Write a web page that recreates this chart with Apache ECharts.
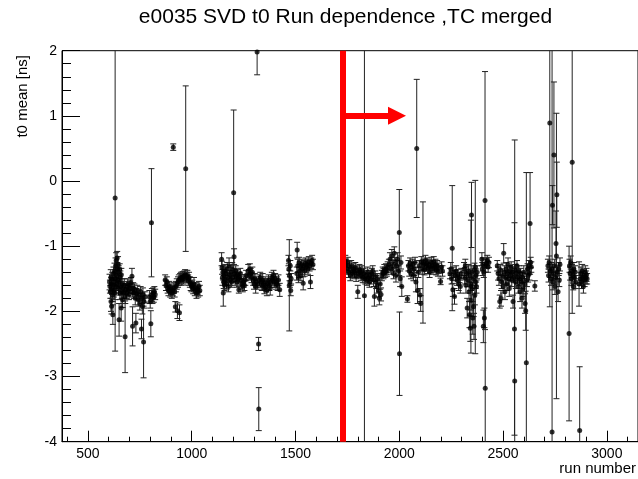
<!DOCTYPE html>
<html>
<head>
<meta charset="utf-8">
<script src="https://cdn.jsdelivr.net/npm/echarts@6/dist/echarts.min.js"></script>
<style>
html,body{margin:0;padding:0;background:#fff;}
#chart{width:638px;height:479px;}
</style>
</head>
<body>
<div id="chart"></div>
<script>
// ---- Data: [run number, t0 mean (ns), error (ns)] ----
const runs600to830 = [
 [604,-1.55,0.12],[606,-1.62,0.10],[608,-1.70,0.10],[610,-1.48,0.12],[611,-1.85,0.15],[613,-1.58,0.10],
 [614,-1.92,0.12],[616,-1.66,0.08],[617,-1.50,0.10],[619,-1.75,0.10],[620,-2.05,0.15],[622,-1.60,0.08],
 [623,-1.42,0.10],[625,-1.68,0.10],[626,-1.55,0.10],[628,-1.38,0.12],[629,-1.72,0.10],[631,-0.26,2.35],
 [632,-1.50,0.10],[633,-1.30,0.12],[635,-1.62,0.10],[636,-1.22,0.12],[638,-1.45,0.10],[639,-1.58,0.10],
 [641,-1.18,0.10],[642,-1.35,0.10],[644,-1.52,0.10],[645,-1.28,0.12],[647,-1.65,0.10],[648,-1.40,0.10],
 [650,-2.13,0.25],[651,-1.55,0.10],[653,-1.35,0.08],[654,-1.72,0.10],[656,-1.48,0.10],[658,-1.62,0.08],
 [660,-1.95,0.20],[661,-1.44,0.10],[663,-1.70,0.10],[665,-1.58,0.08],[667,-1.82,0.12],[669,-1.65,0.08],
 [672,-1.72,0.08],[675,-1.60,0.10],[679,-2.39,0.55],[680,-1.78,0.10],[683,-1.66,0.08],[686,-1.72,0.08],
 [689,-1.62,0.08],[692,-1.58,0.08],[695,-1.68,0.08],[698,-1.74,0.08],[701,-1.65,0.08],[704,-1.60,0.08],
 [707,-1.56,0.08],[712,-1.46,0.12],[714,-1.70,0.08],[715,-2.23,0.30],[718,-1.64,0.08],[721,-1.72,0.08],
 [724,-1.66,0.08],[728,-1.80,0.10],[731,-2.18,0.15],[734,-1.73,0.08],[738,-1.68,0.08],[742,-1.82,0.10],
 [746,-1.75,0.08],[750,-1.88,0.10],[754,-1.70,0.08],[758,-2.27,0.15],[760,-1.80,0.08],[762,-1.92,0.12],
 [765,-1.74,0.10],[768,-2.47,0.55],[770,-1.85,0.10],[774,-1.78,0.08],[796,-1.78,0.10],[800,-1.85,0.10],
 [803,-2.19,0.20],[806,-0.64,0.83],[808,-1.75,0.10],[811,-1.80,0.08],[814,-1.72,0.08],[817,-1.78,0.08],
 [820,-1.70,0.08],[824,-1.74,0.08]
];
const runs870to1040 = [
 [872,-1.52,0.08],[876,-1.60,0.08],[880,-1.55,0.08],[884,-1.64,0.08],[888,-1.68,0.08],[892,-1.62,0.08],
 [896,-1.70,0.08],[900,-1.66,0.08],[904,-1.72,0.08],[908,-1.68,0.08],[911,0.52,0.05],[914,-1.64,0.08],
 [918,-1.70,0.08],[921,-1.93,0.08],[924,-1.62,0.08],[928,-1.58,0.08],[931,-1.99,0.12],[934,-1.55,0.08],
 [938,-1.52,0.08],[941,-2.02,0.12],[944,-1.50,0.08],[948,-1.48,0.08],[952,-1.52,0.08],[956,-1.47,0.08],
 [960,-1.50,0.08],[964,-1.46,0.08],[968,-1.44,0.08],[971,0.19,1.27],[975,-1.48,0.08],[979,-1.45,0.08],
 [983,-1.52,0.08],[987,-1.48,0.08],[991,-1.55,0.08],[995,-1.58,0.10],[999,-1.62,0.08],[1003,-1.60,0.08],
 [1007,-1.65,0.08],[1011,-1.58,0.10],[1015,-1.68,0.08],[1019,-1.64,0.08],[1023,-1.72,0.08],[1027,-1.66,0.08],
 [1031,-1.70,0.08],[1035,-1.62,0.08],[1039,-1.68,0.08]
];
const runs1140to1590 = [
 [1144,-1.20,0.10],[1146,-1.33,0.10],[1148,-1.48,0.12],[1150,-1.40,0.10],[1152,-1.72,0.20],[1154,-1.55,0.10],
 [1156,-1.45,0.10],[1158,-1.60,0.08],[1160,-1.38,0.10],[1162,-1.52,0.08],[1165,-1.42,0.10],[1168,-1.58,0.08],
 [1171,-1.35,0.10],[1174,-1.48,0.08],[1177,-1.62,0.08],[1180,-1.30,0.12],[1183,-1.45,0.08],[1186,-1.52,0.08],
 [1189,-1.40,0.10],[1192,-1.55,0.08],[1195,-1.35,0.10],[1198,-1.48,0.08],[1202,-0.18,1.27],[1204,-1.16,0.12],
 [1206,-1.42,0.08],[1209,-1.52,0.08],[1212,-1.38,0.08],[1215,-1.46,0.08],[1218,-1.55,0.08],[1221,-1.44,0.08],
 [1224,-1.50,0.08],[1227,-1.67,0.05],[1230,-1.48,0.08],[1234,-1.42,0.08],[1238,-1.52,0.08],[1242,-1.58,0.08],
 [1246,-1.62,0.08],[1250,-1.55,0.08],[1254,-1.60,0.08],[1258,-1.52,0.08],[1262,-1.45,0.08],
 [1272,-1.38,0.10],[1276,-1.44,0.08],[1280,-1.35,0.08],[1284,-1.42,0.08],[1288,-1.48,0.08],[1292,-1.40,0.08],
 [1296,-1.52,0.08],[1300,-1.58,0.08],[1304,-1.50,0.08],[1308,-1.62,0.10],[1311,-1.55,0.08],[1315,1.98,0.35],
 [1318,-1.58,0.08],[1322,-2.50,0.10],[1323,-3.50,0.33],[1326,-1.52,0.08],[1330,-1.48,0.08],[1334,-1.55,0.08],
 [1338,-1.60,0.08],[1342,-1.52,0.10],[1346,-1.58,0.08],[1350,-1.65,0.08],[1354,-1.55,0.08],[1358,-1.62,0.08],
 [1362,-1.68,0.08],[1366,-1.58,0.08],[1370,-1.52,0.08],[1374,-1.60,0.08],[1378,-1.65,0.10],[1382,-1.55,0.08],
 [1386,-1.48,0.08],[1390,-1.52,0.08],[1394,-1.45,0.08],[1398,-1.55,0.08],[1402,-1.50,0.08],[1406,-1.58,0.08],
 [1410,-1.55,0.08],[1414,-1.60,0.08],[1418,-1.52,0.08],[1424,-1.67,0.10],
 [1466,-1.22,0.08],[1468,-1.35,0.08],[1470,-1.60,0.70],[1471,-1.45,0.08],[1473,-1.55,0.08],[1475,-1.30,0.08],
 [1477,-1.68,0.08],[1479,-1.50,0.08],
 [1506,-1.42,0.10],[1508,-1.06,0.12],[1511,-1.30,0.10],[1514,-1.48,0.08],[1517,-1.25,0.08],[1520,-1.38,0.10],
 [1523,-1.32,0.08],[1526,-1.45,0.08],[1530,-1.28,0.08],[1534,-1.35,0.08],[1537,-1.57,0.10],[1540,-1.30,0.08],
 [1544,-1.38,0.08],[1548,-1.26,0.08],[1552,-1.32,0.08],[1556,-1.28,0.08],[1560,-1.35,0.08],[1564,-1.24,0.08],
 [1568,-1.30,0.08],[1572,-1.55,0.10],[1576,-1.26,0.08],[1580,-1.22,0.08],[1584,-1.28,0.08]
];
const runs1730to2220 = [
 [1735,-1.30,0.08],[1740,-1.22,0.08],[1744,-1.28,0.08],[1748,-1.35,0.08],[1752,-1.25,0.08],[1756,-1.40,0.08],
 [1760,-1.32,0.08],[1764,-1.45,0.08],[1768,-1.30,0.08],[1772,-1.38,0.08],[1776,-1.42,0.08],[1780,-1.35,0.08],
 [1784,-1.40,0.08],[1788,-1.33,0.08],[1792,-1.46,0.08],[1796,-1.38,0.08],[1800,-1.70,0.10],[1804,-1.42,0.08],
 [1808,-1.36,0.08],[1812,-1.40,0.08],[1816,-1.45,0.08],[1820,-1.38,0.08],[1824,-1.48,0.08],[1828,-1.42,0.08],
 [1832,-1.76,4.60],[1836,-1.50,0.08],[1840,-1.45,0.08],[1844,-1.52,0.08],[1848,-1.40,0.08],[1852,-1.48,0.08],
 [1856,-1.55,0.08],[1860,-1.45,0.08],[1864,-1.50,0.08],[1868,-1.42,0.08],[1872,-1.38,0.08],[1876,-1.52,0.10],
 [1880,-1.77,0.15],[1884,-1.46,0.08],[1888,-1.55,0.10],[1892,-1.62,0.10],[1896,-1.50,0.08],[1900,-1.68,0.10],
 [1904,-1.80,0.10],[1908,-1.58,0.08],[1912,-1.74,0.10],[1916,-1.45,0.08],[1920,-1.40,0.08],[1924,-1.42,0.08],
 [1928,-1.36,0.08],[1932,-1.40,0.08],[1936,-1.35,0.08],[1940,-1.38,0.08],[1944,-1.32,0.08],
 [1950,-1.28,0.08],[1955,-1.20,0.10],[1960,-1.35,0.08],[1964,-1.15,0.10],[1968,-1.30,0.08],[1972,-1.42,0.08],
 [1976,-1.11,0.10],[1980,-1.25,0.08],[1984,-1.45,0.10],[1988,-1.30,0.08],[1992,-1.20,0.10],[1996,-1.38,0.08],
 [2000,-0.79,0.66],[2001,-2.65,0.64],[2004,-1.50,0.12],[2008,-1.25,0.10],[2012,-1.62,0.15],
 [2039,-1.81,0.05],[2044,-1.30,0.08],[2048,-1.38,0.08],[2052,-1.26,0.08],[2056,-1.42,0.08],[2060,-1.32,0.08],
 [2064,-1.28,0.08],[2068,-1.45,0.08],[2072,-1.35,0.10],[2076,-1.25,0.08],[2080,-1.55,0.15],[2084,0.50,1.06],
 [2088,-1.68,0.20],[2092,-1.40,0.08],[2096,-1.30,0.08],[2100,-1.75,0.10],[2103,-1.88,0.12],[2106,-1.24,0.08],
 [2110,-1.35,0.08],[2114,-1.25,0.93],[2118,-1.28,0.08],[2122,-1.36,0.08],[2126,-1.22,0.08],[2130,-1.30,0.08],
 [2134,-1.26,0.08],[2138,-1.34,0.08],[2142,-1.28,0.08],[2146,-1.40,0.08],[2150,-1.32,0.08],[2154,-1.25,0.08],
 [2158,-1.30,0.08],[2162,-1.35,0.08],[2166,-1.24,0.08],[2170,-1.32,0.08],[2174,-1.28,0.08],[2178,-1.36,0.08],
 [2182,-1.30,0.08],[2186,-1.38,0.08],[2190,-1.34,0.08],[2199,-1.54,0.05],[2204,-1.32,0.08],[2208,-1.38,0.08]
];
const runs2240to2440 = [
 [2244,-1.42,0.08],[2248,-1.35,0.10],[2252,-1.50,0.08],[2255,-1.03,0.96],[2258,-1.67,0.10],[2262,-1.40,0.08],
 [2266,-1.77,0.12],[2270,-1.45,0.08],[2274,-1.38,0.08],[2278,-1.52,0.08],[2282,-1.44,0.08],[2286,-1.58,0.10],
 [2290,-1.48,0.08],[2294,-1.62,0.10],[2298,-1.42,0.08],
 [2312,-1.35,0.10],[2315,-1.48,0.10],[2318,-1.30,0.10],[2321,-1.60,0.12],[2324,-1.42,0.10],[2327,-1.95,0.15],
 [2330,-1.52,0.10],[2333,-1.38,0.10],[2336,-1.70,0.15],[2338,-2.05,0.20],[2340,-1.45,0.10],[2342,-2.26,0.20],
 [2344,-1.58,0.10],[2345,-1.62,1.02],[2346,-1.83,0.15],[2348,-0.52,0.50],[2350,-1.40,0.10],[2352,-1.65,0.10],
 [2354,-2.10,0.25],[2356,-1.50,0.10],[2358,-1.93,0.15],[2360,-2.23,0.20],[2362,-1.36,0.10],[2364,-1.75,0.15],
 [2366,-1.32,1.33],[2368,-1.55,0.10],[2370,-1.45,0.10],[2372,-1.62,0.10],[2375,-1.40,0.10],
 [2398,-1.20,0.10],[2400,-1.35,0.10],[2402,-1.28,0.10],[2405,-2.23,0.25],[2407,-1.40,0.08],[2410,-2.10,0.15],
 [2413,-0.30,1.98],[2414,-3.18,1.90],[2416,-1.30,0.10],[2420,-1.26,0.08],[2424,-1.22,0.08],[2428,-1.32,0.08],
 [2432,-1.25,0.08]
];
const runs2470to2910 = [
 [2472,-1.30,0.08],[2476,-1.42,0.10],[2480,-1.50,0.10],[2484,-1.85,0.10],[2487,-1.36,0.08],[2490,-1.80,0.12],
 [2493,-1.55,0.10],[2496,-1.45,0.10],[2500,-1.62,0.10],[2503,-1.11,0.15],[2506,-1.40,0.10],[2509,-1.70,0.12],
 [2512,-1.48,0.10],[2515,-1.35,0.10],[2518,-1.58,0.10],[2521,-1.42,0.10],[2524,-1.28,0.10],[2527,-1.50,0.10],
 [2530,-1.65,0.12],[2533,-1.38,0.08],[2536,-1.45,0.08],[2539,-1.32,0.08],[2542,-1.52,0.10],[2545,-1.40,0.08],
 [2548,-1.85,0.10],[2551,-1.48,0.08],[2555,-2.27,1.63],[2556,-3.07,3.70],[2558,-1.36,0.08],[2561,-1.55,0.10],
 [2564,-1.42,0.08],[2567,-1.30,0.08],[2570,-1.48,0.10],[2573,-1.62,0.10],[2576,-1.38,0.08],[2579,-1.50,0.10],
 [2582,-1.70,0.15],[2585,-1.42,0.08],[2588,-1.55,0.10],[2591,-1.80,0.15],[2594,-1.48,0.08],[2597,-1.65,0.12],
 [2600,-1.40,0.10],[2603,-1.58,0.12],[2606,-1.88,0.15],[2609,-1.99,0.30],[2612,-2.79,2.92],[2615,-1.52,0.10],
 [2618,-1.35,0.08],[2621,-1.45,0.10],[2624,-1.30,0.08],[2627,-1.42,0.10],[2630,-0.65,0.78],[2633,-1.25,0.08],
 [2636,-1.32,0.08],[2653,-1.61,0.08],
 [2716,-1.30,0.10],[2719,-1.45,0.10],[2722,-1.25,0.10],[2725,0.89,2.82],[2728,-1.38,0.10],[2731,-1.50,0.10],
 [2734,-1.35,0.10],[2736,-3.85,6.00],[2738,-0.37,0.30],[2740,-1.55,0.12],[2743,-1.42,0.10],[2745,0.40,1.12],
 [2747,-1.30,0.10],[2750,-1.62,0.12],[2753,-1.48,0.10],[2755,-0.96,0.50],[2757,-1.15,2.19],[2759,-0.21,0.50],
 [2762,-1.40,0.10],[2765,-1.70,0.15],[2768,-1.35,0.10],[2771,-1.52,0.10],[2774,-1.28,0.10],
 [2818,-2.34,1.34],[2820,-1.30,0.10],[2823,-1.42,0.10],[2826,-1.25,0.10],[2829,-1.50,0.10],[2832,-1.38,0.10],
 [2833,0.29,2.32],[2836,-1.45,0.10],[2838,-1.62,0.05],[2841,-1.35,0.10],[2844,-1.48,0.10],[2847,-1.40,0.10],
 [2850,-1.55,0.10],
 [2866,-1.58,0.34],[2869,-3.83,0.98],[2872,-1.50,0.10],[2875,-1.42,0.10],[2878,-1.55,0.10],[2881,-1.38,0.10],
 [2884,-1.48,0.10],[2887,-1.62,0.10],[2890,-1.45,0.10],[2893,-1.52,0.10],[2896,-1.40,0.10],[2899,-1.48,0.10],
 [2902,-1.44,0.10],[2905,-1.50,0.08]
];
// axis ticks
const xMajorTicks = [500, 1000, 1500, 2000, 2500, 3000];
const xMinorTicks = [400, 600, 700, 800, 900, 1100, 1200, 1300, 1400, 1600, 1700, 1800, 1900,
  2100, 2200, 2300, 2400, 2600, 2700, 2800, 2900, 3100];
const yTicks = [-4, -3, -2, -1, 0, 1, 2];
// annotation: start of the selected run range
const cutRun = 1726;
const arrowEndRun = 1989;
const arrowLevel = 1;

const points = [].concat(runs600to830, runs870to1040, runs1140to1590,
  runs1730to2220, runs2240to2440, runs2470to2910);

const chart = echarts.init(document.getElementById('chart'), null, {renderer: 'canvas'});
const FONT = 'Liberation Sans, Helvetica, Arial, sans-serif';
const xMin = 375, xMax = 3150;

const option = {
  animation: false,
  backgroundColor: '#fff',
  grid: {left: 62, top: 50.7, right: -3.7, bottom: 37.3, show: true, borderColor: '#000', borderWidth: 1, backgroundColor: 'transparent'},
  xAxis: [{
    type: 'value', min: xMin, max: xMax, position: 'bottom',
    axisLine: {show: true, onZero: false, lineStyle: {color: '#000', width: 1}},
    axisTick: {show: true, inside: true, length: 11, customValues: xMajorTicks, lineStyle: {color: '#000'}},
    axisLabel: {show: true, customValues: xMajorTicks, fontSize: 14, fontFamily: FONT, color: '#000', margin: 5,
                formatter: function (v) { return String(v); }},
    splitLine: {show: false}
  }, {
    type: 'value', min: xMin, max: xMax, position: 'bottom',
    axisLine: {show: false, onZero: false},
    axisTick: {show: true, inside: true, length: 5, customValues: xMinorTicks, lineStyle: {color: '#000'}},
    axisLabel: {show: false},
    splitLine: {show: false}
  }],
  yAxis: {
    type: 'value', min: yTicks[0], max: yTicks[yTicks.length - 1], interval: 1,
    axisLine: {show: true, onZero: false, lineStyle: {color: '#000', width: 1}},
    axisTick: {show: true, inside: true, length: 18, lineStyle: {color: '#000'}},
    minorTick: {show: true, splitNumber: 5, length: 9, lineStyle: {color: '#000'}},
    axisLabel: {fontSize: 14, fontFamily: FONT, color: '#000', margin: 5,
                formatter: function (v) { return String(v); }},
    splitLine: {show: false}
  },
  graphic: [
    {type: 'text', x: 345.5, y: 17, silent: true,
     style: {text: 'e0035 SVD t0 Run dependence ,TC merged', font: '21px ' + FONT, fill: '#000',
             align: 'center', verticalAlign: 'middle', textAlign: 'center', textVerticalAlign: 'middle'}},
    {type: 'text', x: 636, y: 469, silent: true,
     style: {text: 'run number', font: '15px ' + FONT, fill: '#000',
             align: 'right', verticalAlign: 'middle', textAlign: 'right', textVerticalAlign: 'middle'}},
    {type: 'text', x: 23, y: 55, rotation: Math.PI / 2, silent: true,
     style: {text: 't0 mean [ns]', font: '15px ' + FONT, fill: '#000',
             align: 'right', verticalAlign: 'middle', textAlign: 'right', textVerticalAlign: 'middle'}}
  ],
  series: [{
    type: 'custom',
    xAxisIndex: 0,
    data: points,
    encode: {x: 0, y: 1},
    renderItem: function (params, api) {
      const x = api.value(0), v = api.value(1), e = api.value(2);
      const top = api.coord([x, v + e]);
      const bot = api.coord([x, v - e]);
      const cs = params.coordSys;
      const y0 = cs.y, y1 = cs.y + cs.height;
      const px = top[0];
      const yt = Math.max(top[1], y0), yb = Math.min(bot[1], y1);
      const children = [];
      const st = {stroke: '#222', lineWidth: 1};
      if (yb > yt) children.push({type: 'line', shape: {x1: px, y1: yt, x2: px, y2: yb}, style: st});
      const cw = 3;
      if (top[1] >= y0 && top[1] <= y1) children.push({type: 'line', shape: {x1: px - cw, y1: top[1], x2: px + cw, y2: top[1]}, style: st});
      if (bot[1] <= y1 && bot[1] >= y0) children.push({type: 'line', shape: {x1: px - cw, y1: bot[1], x2: px + cw, y2: bot[1]}, style: st});
      return {type: 'group', children: children};
    },
    silent: true,
    z: 2
  }, {
    type: 'scatter',
    xAxisIndex: 0,
    data: points.map(p => [p[0], p[1]]),
    symbol: 'circle',
    symbolSize: 5,
    itemStyle: {color: '#000'},
    silent: true,
    z: 3,
    markLine: {
      silent: true,
      animation: false,
      symbol: ['none', 'none'],
      label: {show: false},
      lineStyle: {color: '#ff0000', width: 6, type: 'solid'},
      emphasis: {disabled: true},
      data: [
        {xAxis: cutRun},
        [{coord: [cutRun, arrowLevel], symbol: 'none'},
         {coord: [arrowEndRun, arrowLevel], symbol: 'triangle', symbolSize: 18}]
      ]
    }
  }]
};
chart.setOption(option);
</script>
</body>
</html>
